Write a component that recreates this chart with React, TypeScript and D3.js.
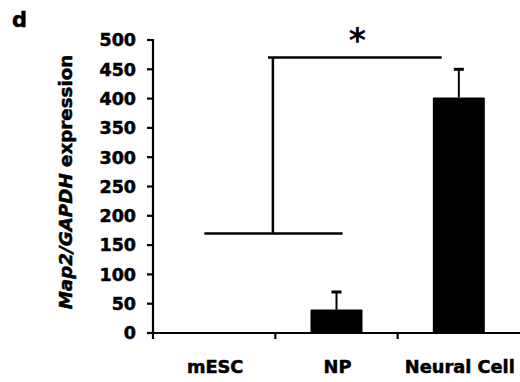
import React from 'react';
import * as d3 from 'd3';

const categories = ['mESC', 'NP', 'Neural Cell'];
const means = [0, 40, 402];
const errors = [0, 30, 48];
const yTicks = [0, 50, 100, 150, 200, 250, 300, 350, 400, 450, 500];

// significance bracket, x in category-index units, y in data units
const bracketLow = { x1: -0.08, x2: 1.05, y: 170 };
const bracketHigh = { x1: 0.44, x2: 1.86, y: 470, stemX: 0.48 };
const starPos = { x: 1.17 };

const width = 520;
const height = 382;
const margin = { top: 40, right: 0, bottom: 49, left: 153 };
const font = "'DejaVu Sans', sans-serif";
const heavy = { stroke: '#000', strokeWidth: 0.5 };

const App = () => {
  const x = d3.scaleBand<string>()
    .domain(categories)
    .range([margin.left, width - margin.right])
    .paddingInner(0)
    .paddingOuter(0);

  const y = d3.scaleLinear()
    .domain([0, 500])
    .range([height - margin.bottom, margin.top]);

  const bw = x.bandwidth();
  const barW = bw * 0.425;
  const idx = d3.scaleLinear()
    .domain([0, 1])
    .range([x(categories[0])! + bw / 2, x(categories[1])! + bw / 2]);

  const y0 = y(0);

  return (
    <svg width={width} height={height} style={{ position: 'absolute', left: 0, top: 0 }}>
      <rect width={width} height={height} fill="#fff" />
      <text x={12} y={27} fontFamily={font} fontWeight="bold" fontSize={21} {...heavy}>d</text>

      {/* y axis */}
      <line x1={margin.left} x2={margin.left} y1={y(500) - 1} y2={y0 + 6} stroke="#000" strokeWidth={2.2} />
      {yTicks.map(t => (
        <g key={t}>
          <line x1={margin.left - 6} x2={margin.left} y1={y(t)} y2={y(t)} stroke="#000" strokeWidth={2.2} />
          <text x={136} y={y(t)} dy="0.36em" textAnchor="end" fontFamily={font} fontWeight="bold" fontSize={17.5} {...heavy}>{t}</text>
        </g>
      ))}
      <text
        transform={`translate(72,${(52 + 312) / 2}) rotate(-90)`}
        textAnchor="middle"
        fontFamily={font}
        fontWeight="bold"
        fontSize={18.3}
        {...heavy}
      >
        <tspan fontStyle="italic">Map2/GAPDH</tspan>
        <tspan> expression</tspan>
      </text>

      {/* x axis */}
      <line x1={margin.left} x2={width} y1={y0} y2={y0} stroke="#000" strokeWidth={2.2} />
      {categories.map((c, i) => (
        <g key={c}>
          {i > 0 && (
            <line x1={x(c)!} x2={x(c)!} y1={y0} y2={y0 + 6} stroke="#000" strokeWidth={2.2} />
          )}
          <text x={x(c)! + bw / 2 + 1} y={373} textAnchor="middle" fontFamily={font} fontWeight="bold" fontSize={17.8} {...heavy}>{c}</text>
        </g>
      ))}

      {/* bars */}
      {categories.map((c, i) => {
        const cx = x(c)! + bw / 2;
        if (means[i] <= 0) return null;
        return (
          <g key={c}>
            <line x1={cx} x2={cx} y1={y(means[i])} y2={y(means[i] + errors[i])} stroke="#000" strokeWidth={2} />
            <line x1={cx - 5} x2={cx + 5} y1={y(means[i] + errors[i])} y2={y(means[i] + errors[i])} stroke="#000" strokeWidth={3} />
            <rect x={cx - barW / 2} y={y(means[i])} width={barW} height={y0 - y(means[i])} fill="#000" rx={1} />
          </g>
        );
      })}

      {/* significance bracket */}
      <line x1={idx(bracketLow.x1)} x2={idx(bracketLow.x2)} y1={y(bracketLow.y)} y2={y(bracketLow.y)} stroke="#000" strokeWidth={2.5} />
      <line x1={idx(bracketHigh.stemX)} x2={idx(bracketHigh.stemX)} y1={y(bracketLow.y)} y2={y(bracketHigh.y)} stroke="#000" strokeWidth={2.5} />
      <line x1={idx(bracketHigh.x1)} x2={idx(bracketHigh.x2)} y1={y(bracketHigh.y)} y2={y(bracketHigh.y)} stroke="#000" strokeWidth={2.5} />
      <text x={idx(starPos.x)} y={52} textAnchor="middle" fontFamily={font} fontWeight="bold" fontSize={33}>*</text>
    </svg>
  );
};

export default App;
